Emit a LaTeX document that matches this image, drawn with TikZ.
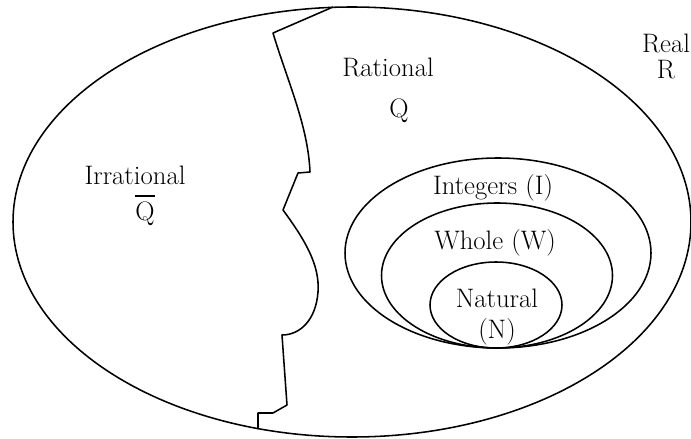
\documentclass[tikz,border=0pt]{standalone}
\begin{document}
\begin{tikzpicture}[x=0.025cm,y=-0.025cm,line width=1.1pt,line join=round,
  lbl/.style={font=\fontsize{19}{23}\selectfont,inner sep=0pt}]
\useasboundingbox (0,0) rectangle (691,439);

% real numbers
\draw (352,222) ellipse (339 and 215);
% rational / irrational border
\draw (333,7) -- (273,33) .. controls (287,80) and (308,125) .. (310,172)
  -- (298,173) -- (283,210) .. controls (305,240) and (320,265) .. (318,292)
  .. controls (316,320) and (300,335) .. (282,335) -- (287,405) -- (273,413)
  -- (258,413) -- (258,429);

% integers, whole, natural
\draw (498,253) ellipse (153 and 95);
\draw (497,275.5) ellipse (115.5 and 72.5);
\draw (496,305) ellipse (66 and 43);

\node[lbl] (real) at (666,43) {Real};
\node[lbl] (realR) at (666,70) {R};
\node[lbl] (rat) at (388,67) {Rational};
\node[lbl] (ratQ) at (399,111) {Q};
\node[lbl] (irr) at (135,175) {Irrational};
\node[lbl] (irrQ) at (145,210) {\vbox{\hrule height 1.8pt\kern 3pt\hbox{Q}}};
\node[lbl] (int) at (493,188) {Integers (I)};
\node[lbl] (whole) at (495,243) {Whole (W)};
\node[lbl] (nat) at (497,298) {Natural};
\node[lbl] (natN) at (497,332) {(N)};
\end{tikzpicture}
\end{document}
